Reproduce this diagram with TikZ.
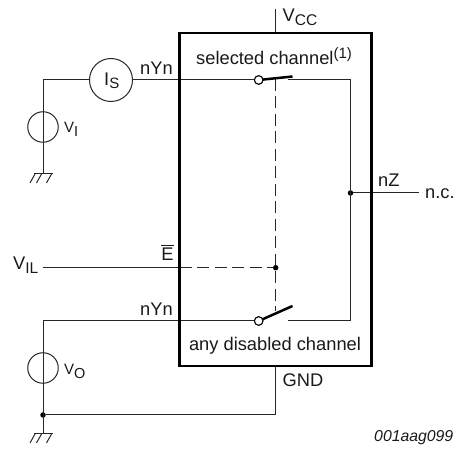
\documentclass[tikz,border=0pt]{standalone}
\usepackage{fontspec}
\setmainfont{Liberation Sans}
\usetikzlibrary{calc}
\newcommand{\lowtext}[3]{\raisebox{-#1pt}{\fontsize{#2}{#2}\selectfont #3}}
\tikzset{
  wire/.style={line width=1pt,draw=black!85},
  boxline/.style={line width=2.5pt,draw=black},
  src/.style={circle,draw=black!85,line width=1pt,minimum size=#1,inner sep=0pt},
  opencontact/.style={circle,draw=black,fill=white,line width=1pt,minimum size=8.5pt,inner sep=0pt},
  junction/.style={circle,fill=black,minimum size=5.5pt,inner sep=0pt},
  blade/.style={line width=2.5pt,draw=black},
  ctrl/.style={line width=1pt,draw=black!85,dash pattern=on 12pt off 5.5pt},
  txt/.style={font=\fontsize{18.3}{20}\selectfont,inner sep=0pt,text=black!90},
  gndmark/.style={line width=1pt,draw=black!85}
}
\newcommand{\gnd}[1]{%
  \draw[gndmark] ($(#1)+(-9,0)$) -- ($(#1)+(9.5,0)$);
  \foreach \dx in {-8,-1.5,8.5}{\draw[gndmark] ($(#1)+(\dx,0)$) -- ($(#1)+(\dx-5,9)$);}
}
\begin{document}
\begin{tikzpicture}[x=1pt,y=-1pt]
\useasboundingbox (0,0) rectangle (459,449);
% coordinates
\coordinate (vccT) at (275.7,9);
\coordinate (vccB) at (275.7,33);
\coordinate (gndT) at (275.7,366);
\coordinate (gndB) at (275.7,415);
\coordinate (topL) at (43,80);
\coordinate (gI) at (43,174);
\coordinate (gO) at (43,434);
\coordinate (botL) at (43,321);
\coordinate (vilL) at (43,267.7);
\coordinate (boxE) at (179.5,267.7);
\coordinate (topR) at (288,80);
\coordinate (cornerTR) at (350.5,80);
\coordinate (cornerBR) at (350.5,321);
\coordinate (botR) at (288,321);
\coordinate (ncEnd) at (419,193);
\coordinate (ctrlTop) at (275.7,79);
\coordinate (ctrlBot) at (275.7,311);
\coordinate (bladeTopEnd) at (292.5,76.5);
\coordinate (bladeBotEnd) at (292.5,306);
% wires
\draw[wire] (vccT) -- (vccB);
\draw[wire] (gndT) -- (gndB);
\node[junction] (jGnd) at (43,415) {};
\node[junction] (jZ) at (350.5,193) {};
\node[junction] (jE) at (275.7,267.7) {};
\node[src=43pt,fill=white] (Is) at (111,80) {};
\node[src=30.5pt] (Vi) at (43,127) {};
\node[src=30.5pt] (Vo) at (43,368) {};
\node[opencontact] (swT) at (258.7,80) {};
\node[opencontact] (swB) at (258.7,321) {};
\draw[wire] (gI) -- (topL) -- (Is);
\draw[wire] (Is) -- (swT);
\draw[wire] (topR) -- (cornerTR) -- (cornerBR) -- (botR);
\draw[wire] (gO) -- (botL) -- (swB);
\draw[wire] (jGnd) -- (gndB);
\draw[wire] (jZ) -- (ncEnd);
\draw[wire] (vilL) -- (boxE);
\draw[ctrl] (boxE) -- (jE);
\draw[ctrl] (ctrlTop) -- (ctrlBot);
\draw[boxline] (179.5,33) rectangle (371.7,366);
\draw[blade] (swT.center) -- (bladeTopEnd);
\draw[blade] (swB.center) -- (bladeBotEnd);
\node[opencontact] at (swT) {};
\node[opencontact] at (swB) {};
\gnd{gI}
\gnd{gO}
% labels
\node[txt,anchor=base west] (lVcc) at (282.5,22) {V\lowtext{3.7}{15.5}{CC}};
\node[txt,anchor=base west] (lSel) at (196,65) {selected channel\raisebox{6.5pt}{\fontsize{15}{15}\selectfont (1)}};
\node[txt,anchor=base] (lAny) at (275,351) {any disabled channel};
\node[txt,anchor=base east] (lY1) at (173,75) {nYn};
\node[txt,anchor=base east] (lY2) at (173,315.5) {nYn};
\node[txt,anchor=base] (lE) at (167.5,261) {$\overline{\mbox{\rule{0pt}{14.5pt}E}}$};
\node[txt,anchor=base west] (lZ) at (378,187) {nZ};
\node[txt,anchor=base west] (lNc) at (425,198.5) {n.c.};
\node[txt,anchor=base west] (lIs) at (104,86) {I\lowtext{2.3}{15}{S}};
\node[txt,anchor=base west,font=\fontsize{15}{16}\selectfont] (lVi) at (64,132.3) {V\lowtext{4.2}{14.5}{I}};
\node[txt,anchor=base west,font=\fontsize{15}{16}\selectfont] (lVo) at (64,375) {V\lowtext{3.3}{14.5}{O}};
\node[txt,anchor=base west] (lVil) at (13,270) {V\lowtext{3.7}{15.5}{IL}};
\node[txt,anchor=base west] (lGnd) at (282.5,386.7) {GND};
\node[txt,anchor=base east,font=\fontsize{15.8}{17}\selectfont\itshape] (lId) at (453.5,442) {001aag099};
\end{tikzpicture}
\end{document}
